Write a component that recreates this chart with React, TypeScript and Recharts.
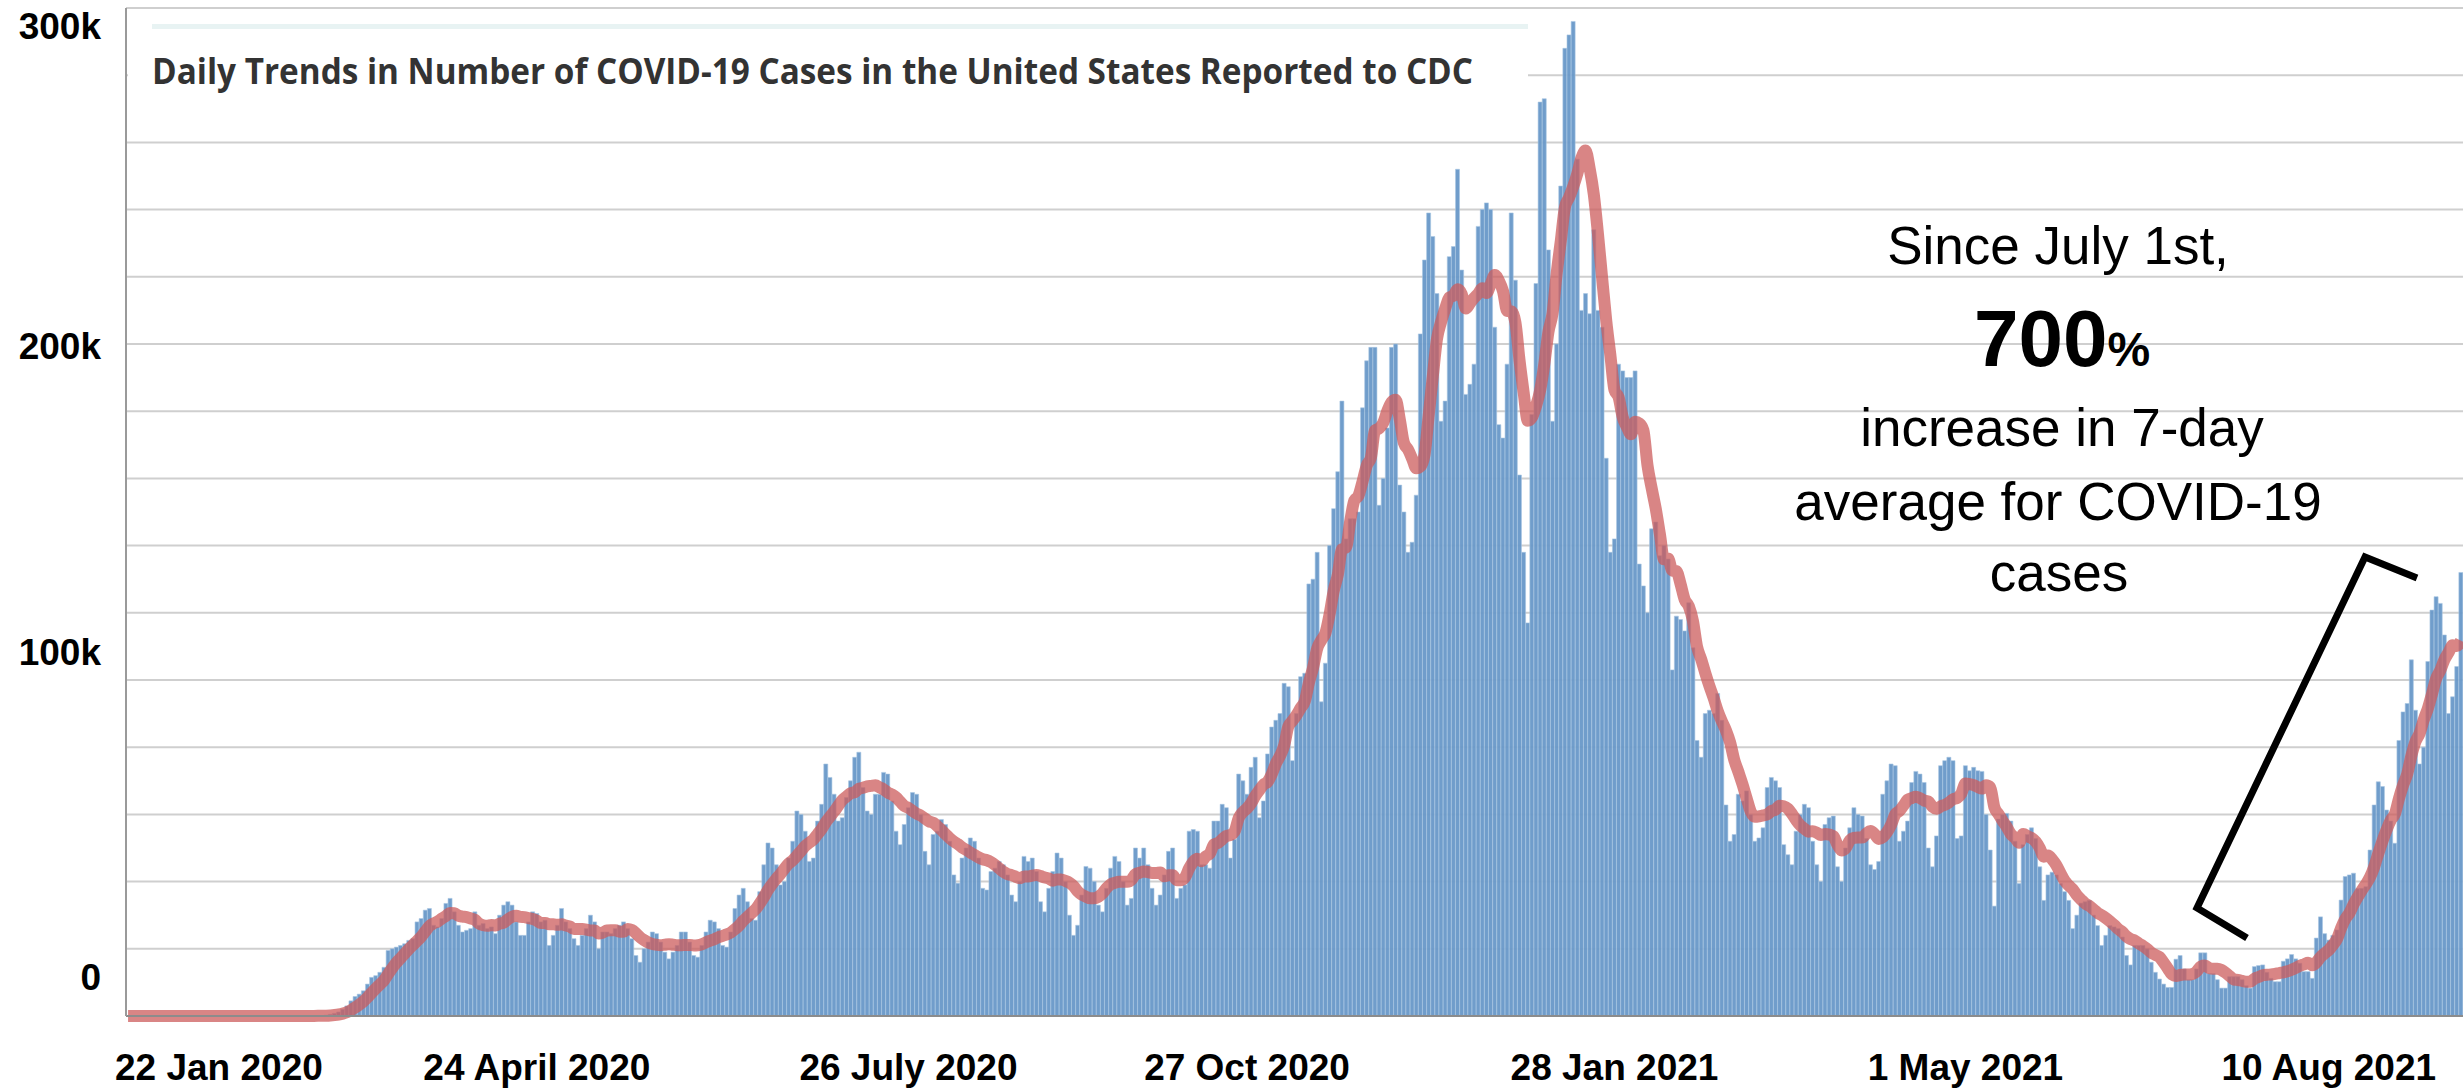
import { ComposedChart, Bar, Line, XAxis, YAxis, CartesianGrid } from "recharts";

// Daily new cases (thousands), one value per day from 22 Jan 2020.
const casesWave1 = [
  0, 0, 0, 0, 0, 0, 0,
  0, 0, 0, 0, 0, 0, 0,
  0, 0, 0, 0, 0, 0, 0,
  0, 0, 0, 0, 0, 0, 0,
  0, 0, 0, 0, 0, 0, 0,
  0, 0, 0, 0, 0, 0, 0,
  0.03, 0.05, 0.07, 0.1, 0.1, 0.15, 0.25,
  0.5, 0.8, 1.2, 2.0, 3.0, 4.5, 5.8,
  6.5, 7.5, 9.5, 11.5, 12, 13, 14.5,
  19.5, 20, 20.5, 21, 21.5, 22.5, 23,
  28, 29, 31.5, 32, 27, 26.5, 29,
  33.5, 35, 31, 27, 25, 25.5, 26,
  31, 27, 27.5, 26, 26.5, 24.5, 30,
  33, 34, 33, 28, 24, 24, 28,
  31, 30.5, 28, 28.5, 21, 24, 27,
  32, 28, 26, 23, 21, 24, 26,
  30, 28, 20, 25, 25, 24.5, 26,
  27, 28, 26, 23, 18, 16, 20,
  22, 25, 24.5, 22, 19, 17, 19,
  21, 25, 25, 22, 18, 17.5, 21,
];

const casesSummer2020 = [
  25, 28.5, 28, 26, 21, 20.5, 25,
  32, 36, 38, 34, 29, 28.5, 37,
  45, 51.5, 50, 45, 39, 40, 47,
  52, 61, 60, 55, 46, 47, 58,
  63, 75, 71, 66, 58, 59, 65,
  70, 77, 78.5, 68, 61, 60, 66,
  66, 72.5, 72, 64, 55, 51, 57,
  62, 66.5, 66, 60, 49, 45, 54,
  55, 58.5, 57, 52, 42, 39.5, 47,
  50, 53, 52, 47, 38, 37.5, 43,
  44, 46, 45, 42, 36, 34, 40,
  47.5, 46, 47, 43, 34, 31, 38,
  43, 48.5, 47, 40, 30, 24, 27,
  36, 44.5, 44, 40, 33, 31, 38,
  44, 47.5, 46, 40, 33, 35, 50,
  47, 50, 45, 38, 33, 36, 42,
];

const casesWinter = [
  49, 50, 35, 38, 39, 55, 55.5,
  55, 45, 45, 44, 58, 58, 63,
  62, 47, 52.6, 72, 70, 66, 74,
  77, 59, 64, 78, 86, 88, 90,
  99, 98, 76, 90, 101, 102, 128.6,
  130, 138, 93.5, 105, 140, 151, 162,
  183, 142, 148, 148, 150, 181, 195,
  199, 199, 152, 160, 175, 199, 200,
  158, 150, 138, 141, 155, 203, 225,
  239, 232, 215, 177, 183, 226, 229,
  252, 222, 185, 188, 194, 235, 240,
  242, 240, 205, 176, 172, 194, 239,
  219, 161, 138, 117, 179, 218, 272,
  273, 228, 177, 200, 247, 288, 292,
  296, 255, 210, 215, 209, 234, 210,
  205, 166, 138, 142, 194, 192, 190,
  190, 192, 134.5, 128, 120, 145, 147,
  137, 140, 136, 103, 119, 118, 114.6,
];

const casesSpring2021 = [
  123, 109.6, 82, 77, 90, 91, 90,
  96, 88, 62.8, 52, 54, 66, 64,
  67, 60, 52, 53, 56, 68, 71,
  70, 68, 51, 48, 45, 55, 60,
  63, 62, 52, 45, 40, 57, 59,
  59.5, 44.4, 40, 50, 56, 62, 60,
  59.5, 52.8, 45, 43.6, 46, 66, 70,
  75, 74.5, 52, 55, 58, 69.5, 72.8,
  72, 69.5, 50, 44.4, 53.6, 74.5, 76,
  77, 76, 52.8, 53.6, 74.5, 73, 74,
  73, 72.8, 60, 49.4, 32.7, 58.6, 60,
  60.3, 58, 52, 39.4, 51, 54, 56,
  52.8, 44.4, 34.4, 42, 42.8, 42, 39.4,
  37, 34.4, 26, 30, 33.6, 34, 34.4,
  30, 26.9, 21, 24, 26.9, 26.5, 26,
  23.5, 18, 15.2, 21, 21, 21, 20,
  16, 13, 11, 9.5, 8.5, 8.5, 16.9,
];

const casesDelta = [
  18, 14, 10.8, 10.8, 14, 18.8, 18.8,
  12.6, 12.6, 10.8, 8.3, 8.3, 11.7, 11.7,
  11.7, 10.8, 9, 8.3, 14.7, 15, 15.2,
  13, 11.2, 10.2, 10.2, 16.3, 17, 18.3,
  17, 15.7, 13.2, 13.2, 11.2, 23.2, 29.5,
  24.5, 22.6, 24, 25.6, 34.5, 41.5, 42,
  42.5, 37.9, 38, 38.5, 49.4, 62.8, 69.7,
  68.3, 61.3, 58, 51.4, 82, 90.5, 93,
  106, 91, 75, 80, 105.5, 120.8, 124.8,
  122.8, 113.4, 90, 95, 104, 132,
];

const yTickValues = [
  0, 20000, 40000, 60000, 80000, 100000, 120000, 140000,
  160000, 180000, 200000, 220000, 240000, 260000, 280000, 300000,
];
const yTickLabels: Record<number, string> = { 0: "0", 100000: "100k", 200000: "200k", 300000: "300k" };

const xTickLabels = [
  "22 Jan 2020",
  "24 April 2020",
  "26 July 2020",
  "27 Oct 2020",
  "28 Jan 2021",
  "1 May 2021",
  "10 Aug 2021",
];

const chartTitle = "Daily Trends in Number of COVID-19 Cases in the United States Reported to CDC";
const noteTop = "Since July 1st,";
const noteFigure = "700";
const noteLines = ["increase in 7-day", "average for COVID-19", "cases"];

const daily = [...casesWave1, ...casesSummer2020, ...casesWinter, ...casesSpring2021, ...casesDelta];

// CDC's red line is a trailing 7-day average of the daily counts
const rows = daily.map((v, i) => {
  const win = daily.slice(Math.max(0, i - 6), i + 1);
  const avg = win.reduce((s, x) => s + x, 0) / win.length;
  return { day: i, cases: v * 1000, avg: avg * 1000 };
});

// the pasted-on date captions sit under these bar slots in the original slide
const xLabelSlots = [22, 99, 189, 271, 360, 445, 533];

const W = 2463;
const H = 1089;
const axisFont = "'Liberation Sans', Arial, sans-serif";

function YTick(props: any) {
  const { y, payload } = props;
  const label = yTickLabels[payload.value];
  if (label === undefined) return null;
  // the labels in the source were nudged by hand, not quite on their gridlines
  const nudge: Record<number, number> = { 0: -39, 100000: -28, 200000: 2, 300000: 18 };
  return (
    <text
      x={101}
      y={y + nudge[payload.value]}
      textAnchor="end"
      dominantBaseline="central"
      fontFamily={axisFont}
      fontWeight={700}
      fontSize={37}
      fill="#000"
    >
      {label}
    </text>
  );
}

function XTick(props: any) {
  const { x, payload } = props;
  const idx = xLabelSlots.indexOf(payload.value);
  if (idx < 0) return null;
  return (
    <text x={x} y={1080} textAnchor="middle" fontFamily={axisFont} fontWeight={700} fontSize={37} fill="#000">
      {xTickLabels[idx]}
    </text>
  );
}

export default function App() {
  return (
    <div style={{ position: "relative", width: W, height: H, background: "#fff" }}>
      <style>{"body{margin:0;overflow:hidden;}"}</style>
      <ComposedChart
        width={W}
        height={H}
        data={rows}
        margin={{ top: 8, right: 0, bottom: 0, left: 0 }}
        barCategoryGap={0}
      >
        <CartesianGrid vertical={false} stroke="#cfcfcf" strokeWidth={2} />
        <XAxis
          dataKey="day"
          ticks={xLabelSlots}
          interval={0}
          height={73}
          tickLine={false}
          axisLine={{ stroke: "#8c8c8c", strokeWidth: 2 }}
          tick={(p: any) => <XTick {...p} />}
        />
        <YAxis
          width={126}
          domain={[0, 300000]}
          ticks={yTickValues}
          interval={0}
          tickLine={false}
          axisLine={{ stroke: "#9a9a9a", strokeWidth: 2 }}
          tick={(p: any) => <YTick {...p} />}
        />
        <Bar
          dataKey="cases"
          fill="#6898c8"
          fillOpacity={0.95}
          stroke="#a8c6e3"
          strokeWidth={0.6}
          isAnimationActive={false}
        />
        <Line
          dataKey="avg"
          type="monotone"
          stroke="#cc5c5c"
          strokeOpacity={0.75}
          strokeWidth={12}
          strokeLinejoin="round"
          dot={false}
          isAnimationActive={false}
        />
      </ComposedChart>

      <svg width={W} height={H} style={{ position: "absolute", left: 0, top: 0, pointerEvents: "none" }}>
        {/* title card from the CDC screenshot */}
        <rect x={128} y={14} width={1400} height={100} fill="#fff" />
        <rect x={152} y={24} width={1376} height={5} fill="#e8f3f3" />
        <text
          x={152}
          y={84}
          fontFamily="'Open Sans', sans-serif"
          fontWeight={700}
          fontSize={36}
          fill="#333"
          textLength={1321}
          lengthAdjust="spacingAndGlyphs"
        >
          {chartTitle}
        </text>

        <g fontFamily={axisFont} fill="#000" textAnchor="middle">
          <text x={2058} y={264} fontSize={53}>
            {noteTop}
          </text>
          <text x={2062} y={366} fontWeight={700}>
            <tspan fontSize={80}>{noteFigure}</tspan>
            <tspan fontSize={48}>%</tspan>
          </text>
          <text x={2062} y={446} fontSize={53}>
            {noteLines[0]}
          </text>
          <text x={2058} y={520} fontSize={53}>
            {noteLines[1]}
          </text>
          <text x={2059} y={591} fontSize={53}>
            {noteLines[2]}
          </text>
        </g>

        <polyline
          points="2247,938 2197,908 2365,557 2417,578"
          fill="none"
          stroke="#000"
          strokeWidth={7}
          strokeLinejoin="miter"
        />
      </svg>
    </div>
  );
}
